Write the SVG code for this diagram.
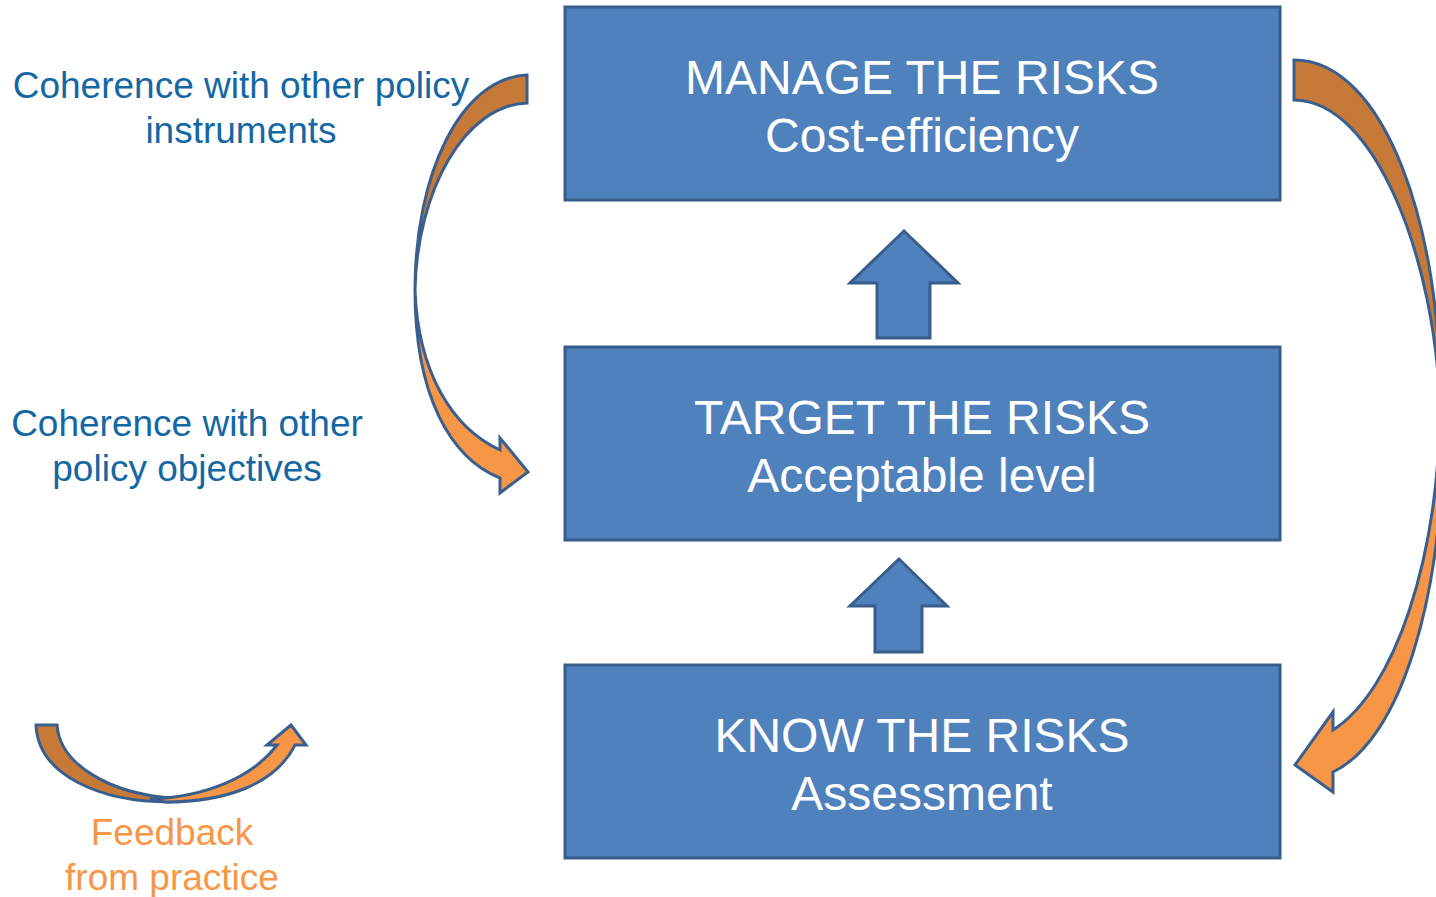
<svg xmlns="http://www.w3.org/2000/svg" width="1436" height="897" viewBox="0 0 1436 897">
<style>
.box{fill:#4F81BD;stroke:#385D8A;stroke-width:3}
.bt{font-family:"Liberation Sans",Arial,sans-serif;font-size:48px;fill:#fff;text-anchor:middle}
.lbl{font-family:"Liberation Sans",Arial,sans-serif;font-size:37px;fill:#1367A3;text-anchor:middle}
.fb{font-family:"Liberation Sans",Arial,sans-serif;font-size:37px;fill:#F79646;text-anchor:middle}
.dk{fill:#C77A37;stroke:#3A5F8E;stroke-width:3;stroke-linejoin:miter}
.lt{fill:#F79646;stroke:#3A5F8E;stroke-width:3;stroke-linejoin:miter}
.up{fill:#4F81BD;stroke:#385D8A;stroke-width:3}
</style>
<rect width="1436" height="897" fill="#fff"/>
<g id="connectors">
<path class="up" d="M877,338 L877,283 L850,283 L904,231 L958,283 L930,283 L930,338 Z"/>
<path class="up" d="M875,652 L875,606 L850,606 L899,559 L947,606 L922,606 L922,652 Z"/>
<g id="left-curve">
<path class="dk" d="M527,75 L527,103 C465,105 417,190 415,290 C415,175 460,78 527,75 Z"/>
<path class="lt" d="M415,290 C418,372 452,428 500,450 L500,438 L528,472 L500,493 L500,478 C450,458 415,395 415,290 Z"/>
</g>
<g id="right-curve">
<path class="dk" d="M1294,60 L1294,100 C1375,100 1436,260 1440,410 C1443,230 1385,60 1294,60 Z"/>
<path class="lt" d="M1440,410 C1438,560 1395,690 1333,730 L1333,712 L1295,765 L1333,792 L1333,772 C1400,740 1444,600 1443,420 Z"/>
</g>
</g>
<g id="feedback-arrow">
<path class="dk" d="M36,725 L57,725 C60,765 110,793 170,798 L170,802 C100,802 38,775 36,725 Z"/>
<path class="lt" d="M150,799 C205,797 252,778 277,745 L267,745 L291,725 L306,745 L295,745 C275,785 225,802 165,802 Z"/>
</g>
<g id="manage">
<rect class="box" x="565" y="7" width="715" height="193"/>
<text class="bt" x="922" y="94">MANAGE THE RISKS</text>
<text class="bt" x="922" y="152">Cost-efficiency</text>
</g>
<g id="target">
<rect class="box" x="565" y="347" width="715" height="193"/>
<text class="bt" x="922" y="434">TARGET THE RISKS</text>
<text class="bt" x="922" y="492">Acceptable level</text>
</g>
<g id="know">
<rect class="box" x="565" y="665" width="715" height="193"/>
<text class="bt" x="922" y="752">KNOW THE RISKS</text>
<text class="bt" x="922" y="810">Assessment</text>
</g>
<g id="label-instruments">
<text class="lbl" x="241" y="98">Coherence with other policy</text>
<text class="lbl" x="241" y="143">instruments</text>
</g>
<g id="label-objectives">
<text class="lbl" x="187" y="436">Coherence with other</text>
<text class="lbl" x="187" y="481">policy objectives</text>
</g>
<g id="label-feedback">
<text class="fb" x="172" y="845">Feedback</text>
<text class="fb" x="172" y="890">from practice</text>
</g>
</svg>
